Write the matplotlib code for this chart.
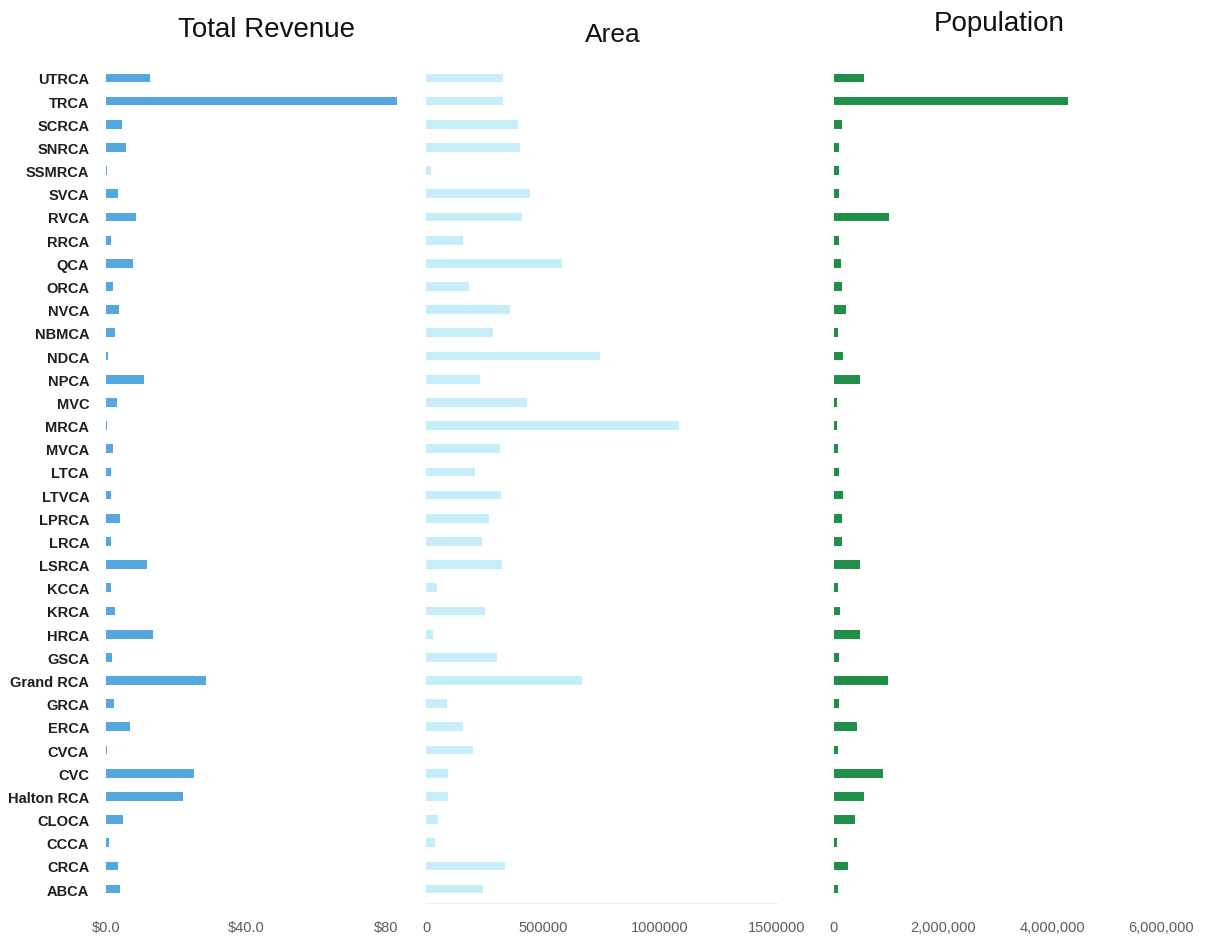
import matplotlib.pyplot as plt
import numpy as np

plt.rcParams['font.family'] = ['Liberation Sans', 'DejaVu Sans']

# conservation authorities, top to bottom
agencies = ['UTRCA', 'TRCA', 'SCRCA', 'SNRCA', 'SSMRCA', 'SVCA', 'RVCA', 'RRCA',
            'QCA', 'ORCA', 'NVCA', 'NBMCA', 'NDCA', 'NPCA', 'MVC', 'MRCA', 'MVCA',
            'LTCA', 'LTVCA', 'LPRCA', 'LRCA', 'LSRCA', 'KCCA', 'KRCA', 'HRCA',
            'GSCA', 'Grand RCA', 'GRCA', 'ERCA', 'CVCA', 'CVC', 'Halton RCA',
            'CLOCA', 'CCCA', 'CRCA', 'ABCA']

# total revenue ($ millions)
revenue = [12.6, 83.0, 4.6, 5.7, 0.4, 3.4, 8.6, 1.4, 7.7, 2.0, 3.7, 2.6, 0.6,
           10.9, 3.1, 0.2, 2.0, 1.4, 1.4, 4.0, 1.4, 11.7, 1.4, 2.6, 13.4, 1.7,
           28.6, 2.3, 6.9, 0.3, 25.0, 22.0, 4.9, 0.9, 3.4, 4.0]

# area
area = [329000, 329000, 393000, 402000, 21000, 444000, 410000, 158000, 581000,
        184000, 359000, 286000, 744000, 231000, 432000, 1081000, 316000, 209000,
        321000, 269000, 239000, 325000, 47000, 252000, 30000, 303000, 667000,
        90000, 158000, 201000, 94000, 94000, 51000, 38000, 338000, 244000]

# population
population = [545000, 4293000, 141000, 98000, 86000, 86000, 1015000, 86000,
              128000, 147000, 220000, 67000, 171000, 483000, 55000, 55000, 67000,
              86000, 159000, 141000, 141000, 483000, 67000, 116000, 483000, 86000,
              996000, 86000, 422000, 67000, 893000, 556000, 385000, 49000, 251000,
              67000]

rev_ticks = [0, 40, 80]
rev_labels = ['$0.0', '$40.0', '$80']
area_ticks = [0, 500000, 1000000, 1500000]
area_labels = ['0', '500000', '1000000', '1500000']
pop_ticks = [0, 2000000, 4000000, 6000000]
pop_labels = ['0', '2,000,000', '4,000,000', '6,000,000']

W, H = 1208, 937
fig = plt.figure(figsize=(W / 100, H / 100), dpi=100)

bottom = 1 - 904 / H
height = (904 - 65) / H
ax1 = fig.add_axes([106 / W, bottom, 297.5 / W, height])
ax2 = fig.add_axes([426 / W, bottom, 351 / W, height])
ax3 = fig.add_axes([834 / W, bottom, 327 / W, height])

y = np.arange(len(agencies))
bar_h = 0.38

ax1.barh(y, revenue, height=bar_h, color='#55a7e0')
ax2.barh(y, area, height=bar_h, color='#c6eef8')
ax3.barh(y, population, height=bar_h, color='#1f8f4a')

ax1.set_xlim(0, 85)
ax2.set_xlim(0, 1500000)
ax3.set_xlim(0, 6000000)

for ax, ticks, labels in [(ax1, rev_ticks, rev_labels),
                          (ax2, area_ticks, area_labels),
                          (ax3, pop_ticks, pop_labels)]:
    ax.set_ylim(len(agencies) - 0.4, -0.6)
    ax.set_xticks(ticks)
    ax.set_xticklabels(labels)
    ax.tick_params(axis='x', length=0, pad=12, labelsize=10.5, labelcolor='#5f5f52')
    ax.tick_params(axis='y', length=0)
    for s in ax.spines.values():
        s.set_visible(False)
    ax.set_yticks([])

ax1.set_yticks(y)
ax1.set_yticklabels(agencies, fontsize=10.5, fontweight='bold', color='#1e1e1e')
ax1.tick_params(axis='y', pad=12)

ax2.spines['bottom'].set_visible(True)
ax2.spines['bottom'].set_color('#eeeeee')

fig.text(267 / W, 1 - 30 / H, 'Total Revenue', ha='center', va='center', fontsize=20, color='#111111')
fig.text(613 / W, 1 - 35 / H, 'Area', ha='center', va='center', fontsize=19, color='#111111')
fig.text(999 / W, 1 - 24 / H, 'Population', ha='center', va='center', fontsize=20, color='#111111')

fig.savefig('out.png', dpi=100)
